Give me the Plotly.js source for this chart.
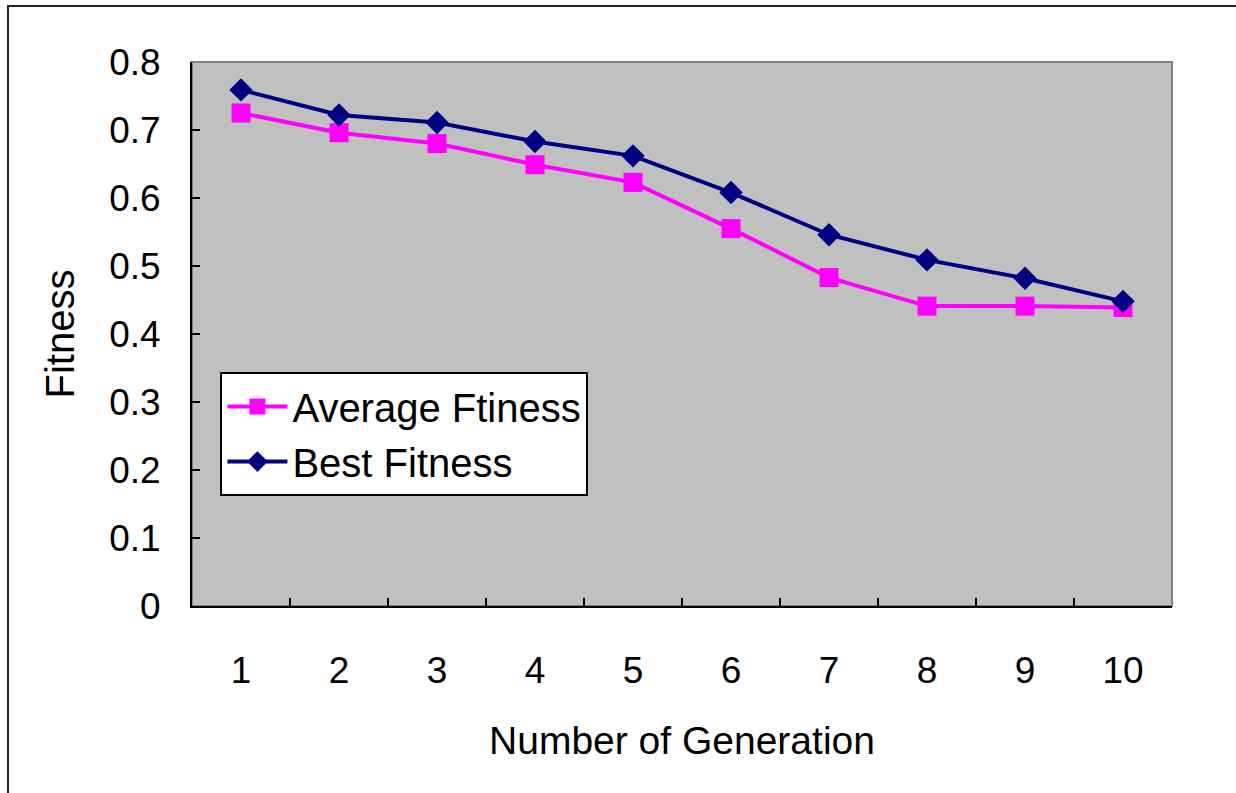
<!DOCTYPE html>
<html>
<head>
<meta charset="utf-8">
<script src="https://cdn.plot.ly/plotly-3.0.1.min.js"></script>
<style>
html,body{margin:0;padding:0;background:#fff;overflow:hidden;}
#frame{position:absolute;left:7px;top:5px;width:1300px;height:900px;border:2px solid #222;box-sizing:border-box;pointer-events:none;z-index:5;}
#chart{position:absolute;left:0;top:0;width:1236px;height:793px;}
</style>
</head>
<body>
<div id="chart"></div>
<div id="frame"></div>
<script>
const generations = ["1","2","3","4","5","6","7","8","9","10"];
const averageFitness = [0.725, 0.696, 0.680, 0.649, 0.623, 0.555, 0.483, 0.441, 0.441, 0.439];
const bestFitness = [0.759, 0.722, 0.711, 0.683, 0.662, 0.608, 0.546, 0.509, 0.482, 0.448];
const seriesNames = ["Average Ftiness", "Best Fitness"];

const fontFam = "Liberation Sans, Arial, sans-serif";

const traces = [
  {
    x: generations, y: averageFitness, name: seriesNames[0],
    type: "scatter", mode: "lines+markers",
    line: {color: "#FF00FF", width: 4},
    marker: {symbol: "square", size: 19, color: "#FF00FF"}
  },
  {
    x: generations, y: bestFitness, name: seriesNames[1],
    type: "scatter", mode: "lines+markers",
    line: {color: "#000080", width: 4},
    marker: {symbol: "diamond", size: 18, color: "#000080"}
  }
];

const layout = {
  width: 1236, height: 793,
  margin: {l: 192, r: 64, t: 62, b: 187},
  paper_bgcolor: "#FFFFFF",
  plot_bgcolor: "#C0C0C0",
  font: {family: fontFam, size: 37, color: "#000"},
  showlegend: true,
  legend: {
    x: 0.029, y: 0.43, xanchor: "left", yanchor: "top",
    bgcolor: "#FFFFFF", bordercolor: "#000", borderwidth: 2,
    font: {family: fontFam, size: 40, color: "#000"},
    tracegroupgap: 0, itemwidth: 60
  },
  xaxis: {
    type: "category",
    tickson: "boundaries",
    ticks: "inside", ticklen: 8, tickwidth: 2, tickcolor: "#000",
    showline: true, linecolor: "#000", linewidth: 2,
    showgrid: false, zeroline: false,
    ticklabelstandoff: 31,
    tickfont: {family: fontFam, size: 37, color: "#000"},
    title: {text: "Number of Generation", font: {family: fontFam, size: 39, color: "#000"}, standoff: 36},
    range: [-0.5, 9.5]
  },
  yaxis: {
    range: [0, 0.8], dtick: 0.1, tick0: 0,
    ticks: "inside", ticklen: 8, tickwidth: 2, tickcolor: "#000",
    showline: true, linecolor: "#000", linewidth: 2,
    showgrid: false, zeroline: false,
    ticklabelstandoff: 22,
    tickfont: {family: fontFam, size: 37, color: "#000"},
    title: {text: "Fitness", font: {family: fontFam, size: 40, color: "#000"}, standoff: 22}
  },
  shapes: [
    {type: "rect", xref: "paper", yref: "paper", x0: 0, x1: 1, y0: 0, y1: 1,
     line: {color: "#808080", width: 2}, layer: "below"}
  ]
};

Plotly.newPlot("chart", traces, layout, {displayModeBar: false, staticPlot: true});
</script>
</body>
</html>
